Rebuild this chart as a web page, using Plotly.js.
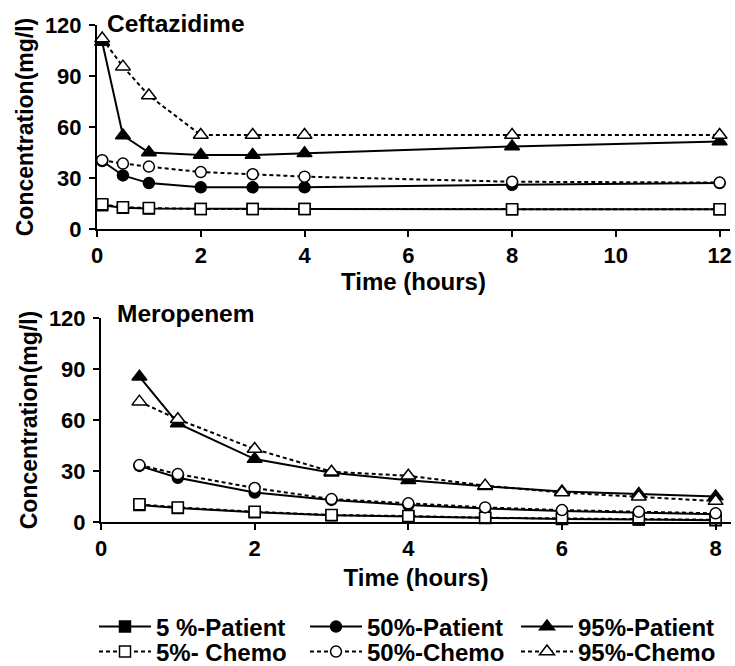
<!DOCTYPE html>
<html>
<head>
<meta charset="utf-8">
<script src="https://cdn.plot.ly/plotly-3.0.1.min.js"></script>
<style>html,body{margin:0;padding:0;background:#fff;}#chart{width:735px;height:666px;}</style>
</head>
<body>
<div id="chart"></div>
<script>
// ---- Data ----
const cefTime = [0.1, 0.5, 1, 2, 3, 4, 8, 12];
const cefP5  = [14, 12.5, 12, 11.8, 11.8, 11.8, 11.6, 11.6];
const cefP50 = [40, 31.5, 27, 24.5, 24.5, 24.5, 26, 27];
const cefP95 = [110, 55, 45, 43.5, 43.5, 44.5, 48.5, 51.5];
const cefC5  = [14.5, 12.8, 12.3, 11.8, 11.8, 11.8, 11.6, 11.6];
const cefC50 = [40.5, 38.5, 36.7, 33.5, 32.2, 30.8, 27.8, 27.3];
const cefC95 = [112, 95.5, 78.5, 55.3, 55.3, 55.3, 55.3, 55.3];

const merTime = [0.5, 1, 2, 3, 4, 5, 6, 7, 8];
const merP5  = [10, 8.3, 5.7, 4, 3.2, 2.3, 1.8, 1.4, 1.1];
const merP50 = [33, 26, 17.3, 13, 10, 8, 6.5, 5.5, 4.5];
const merP95 = [85.5, 58, 37, 29, 24.5, 21, 18, 16.5, 15];
const merC5  = [10.4, 8.6, 6, 4.1, 3.5, 2.5, 2.1, 1.6, 1.3];
const merC50 = [33.5, 28.2, 20, 13.5, 11, 8.6, 7, 6, 5.1];
const merC95 = [70.8, 60.4, 42.9, 29.6, 27.2, 21.4, 17.3, 14.9, 12.3];

const seriesNames = ['5 %-Patient', '50%-Patient', '95%-Patient', '5%- Chemo', '50%-Chemo', '95%-Chemo'];
const xTicksTop = [0, 2, 4, 6, 8, 10, 12];
const xTicksBottom = [0, 2, 4, 6, 8];
const yTicks = [0, 30, 60, 90, 120];

// ---- Styling ----
const FONT = 'Liberation Sans, Arial, sans-serif';
const symbols = ['square', 'circle', 'triangle-up'];

function mkTrace(x, y, idx, xa, ya, showlegend) {
  const isChemo = idx >= 3;
  const sym = symbols[idx % 3];
  return {
    x: x, y: y, xaxis: xa, yaxis: ya, type: 'scatter', mode: 'lines+markers',
    name: seriesNames[idx], showlegend: showlegend,
    legend: isChemo ? 'legend2' : 'legend',
    cliponaxis: false,
    line: {color: '#000', width: 2, dash: isChemo ? '4px,3px' : 'solid'},
    marker: {symbol: sym, size: sym === 'triangle-up' ? 13 : 11,
             color: isChemo ? '#fff' : '#000',
             line: {color: '#000', width: 1.5}}
  };
}

const topSets = [cefP5, cefP50, cefP95, cefC5, cefC50, cefC95];
const botSets = [merP5, merP50, merP95, merC5, merC50, merC95];
const traces = [];
topSets.forEach((d, i) => traces.push(mkTrace(cefTime, d, i, 'x', 'y', true)));
botSets.forEach((d, i) => traces.push(mkTrace(merTime, d, i, 'x2', 'y2', false)));

const W = 735, H = 666;
const axisBase = {
  showline: true, linecolor: '#000', linewidth: 2,
  ticks: 'outside', ticklen: 6, tickwidth: 2, tickcolor: '#000',
  showgrid: false, zeroline: false, automargin: false,
  tickfont: {family: FONT, size: 22, weight: 'bold', color: '#000'}
};
const titleFont = {family: FONT, size: 24, weight: 'bold', color: '#000'};
const yTitleFont = {family: FONT, size: 23, weight: 'bold', color: '#000'};
const panelFont = {family: FONT, size: 24.5, weight: 'bold', color: '#000'};
const legendFont = {family: FONT, size: 24, weight: 'bold', color: '#000'};

const layout = {
  width: W, height: H,
  margin: {l: 0, r: 0, t: 0, b: 0, autoexpand: false},
  paper_bgcolor: '#fff', plot_bgcolor: '#fff',
  showlegend: true,
  xaxis: Object.assign({}, axisBase, {
    domain: [97 / W, 730 / W], range: [0, 12.2], anchor: 'y',
    tickvals: xTicksTop, ticktext: xTicksTop.map(String),
    title: {text: 'Time (hours)', font: titleFont, standoff: 1}
  }),
  yaxis: Object.assign({}, axisBase, {
    domain: [1 - 229 / H, 1 - 25 / H], range: [0, 120], anchor: 'x',
    tickvals: yTicks, ticktext: yTicks.map(String), ticklabelstandoff: 3,
    title: {text: 'Concentration(mg/l)', font: yTitleFont, standoff: 5}
  }),
  xaxis2: Object.assign({}, axisBase, {
    domain: [101 / W, 731 / W], range: [0, 8.2], anchor: 'y2',
    tickvals: xTicksBottom, ticktext: xTicksBottom.map(String),
    title: {text: 'Time (hours)', font: titleFont, standoff: 9}
  }),
  yaxis2: Object.assign({}, axisBase, {
    domain: [1 - 522 / H, 1 - 318 / H], range: [0, 120], anchor: 'x2',
    tickvals: yTicks, ticktext: yTicks.map(String), ticklabelstandoff: 3,
    title: {text: 'Concentration(mg/l)', font: yTitleFont, standoff: 5}
  }),
  legend: {
    orientation: 'h', x: 94 / W, xanchor: 'left', y: 1 - 627 / H, yanchor: 'middle',
    font: legendFont, entrywidth: 144, itemwidth: 52,
    bgcolor: 'rgba(0,0,0,0)', tracegroupgap: 0
  },
  legend2: {
    orientation: 'h', x: 94 / W, xanchor: 'left', y: 1 - 652 / H, yanchor: 'middle',
    font: legendFont, entrywidth: 144, itemwidth: 52,
    bgcolor: 'rgba(0,0,0,0)', tracegroupgap: 0
  },
  annotations: [
    {text: 'Ceftazidime', xref: 'paper', yref: 'paper', x: 105 / W, y: 1 - 24 / H,
     xanchor: 'left', yanchor: 'middle', showarrow: false, font: panelFont},
    {text: 'Meropenem', xref: 'paper', yref: 'paper', x: 115 / W, y: 1 - 314 / H,
     xanchor: 'left', yanchor: 'middle', showarrow: false, font: panelFont}
  ]
};

Plotly.newPlot('chart', traces, layout, {displayModeBar: false, staticPlot: true});
</script>
</body>
</html>
